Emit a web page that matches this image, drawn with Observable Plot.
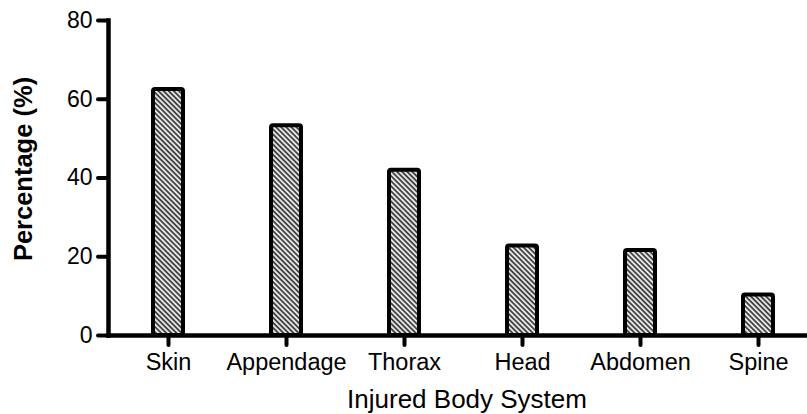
<!DOCTYPE html>
<html>
<head>
<meta charset="utf-8">
<script src="https://cdn.jsdelivr.net/npm/d3@7"></script>
<script src="https://cdn.jsdelivr.net/npm/@observablehq/plot@0.6"></script>
<style>
  html, body { margin: 0; padding: 0; background: #fff; }
</style>
</head>
<body>
<div id="chart"></div>
<script>
const categories = ["Skin", "Appendage", "Thorax", "Head", "Abdomen", "Spine"];
const percentages = [62.5, 53.3, 42.0, 22.7, 21.6, 10.3];
const yTicks = [0, 20, 40, 60, 80];
const xTitle = "Injured Body System";
const yTitle = "Percentage (%)";

const data = categories.map((c, i) => ({category: c, value: percentages[i]}));

const font = "'Liberation Sans', Arial, Helvetica, sans-serif";

const plot = Plot.plot({
  width: 807,
  height: 414,
  marginLeft: 108,
  marginRight: 0,
  marginTop: 20,
  marginBottom: 79,
  style: {fontFamily: font, color: "#000", background: "#fff", overflow: "visible"},
  x: {domain: categories, range: [108, 817], padding: 0},
  y: {domain: [0, 80]},
  marks: [
    Plot.barY(data, {
      x: "category", y: "value",
      fill: "url(#hatch)", stroke: "#000", strokeWidth: 4,
      insetLeft: 44, insetRight: 44, rx: 2
    }),
    Plot.frame({anchor: "left", stroke: "#000", strokeWidth: 4.5}),
    Plot.frame({anchor: "bottom", stroke: "#000", strokeWidth: 4.5}),
    Plot.axisY({ticks: yTicks, tickSize: 10, tickPadding: 6, strokeWidth: 4, strokeLinecap: "round", fontSize: 23, label: null}),
    Plot.axisX({tickSize: 10, tickPadding: 8, strokeWidth: 4, strokeLinecap: "round", fontSize: 23.5, label: null}),
    Plot.text([xTitle], {frameAnchor: "bottom", lineAnchor: "bottom", textAnchor: "middle", dy: 72, dx: 9, fontSize: 26, fill: "#000"}),
    Plot.text([yTitle], {frameAnchor: "left", lineAnchor: "bottom", textAnchor: "middle", rotate: -90, dx: -77, dy: -9, fontSize: 25.5, fontWeight: "bold", fill: "#000"})
  ]
});

const svg = d3.select(plot);
const defs = svg.insert("defs", ":first-child");
const pat = defs.append("pattern")
  .attr("id", "hatch")
  .attr("patternUnits", "userSpaceOnUse")
  .attr("width", 3.6).attr("height", 3.6)
  .attr("patternTransform", "rotate(-45)");
pat.append("rect").attr("width", 3.6).attr("height", 3.6).attr("fill", "#e6e6e6");
pat.append("rect").attr("width", 1.8).attr("height", 3.6).attr("fill", "#444");

document.getElementById("chart").appendChild(plot);
</script>
</body>
</html>
